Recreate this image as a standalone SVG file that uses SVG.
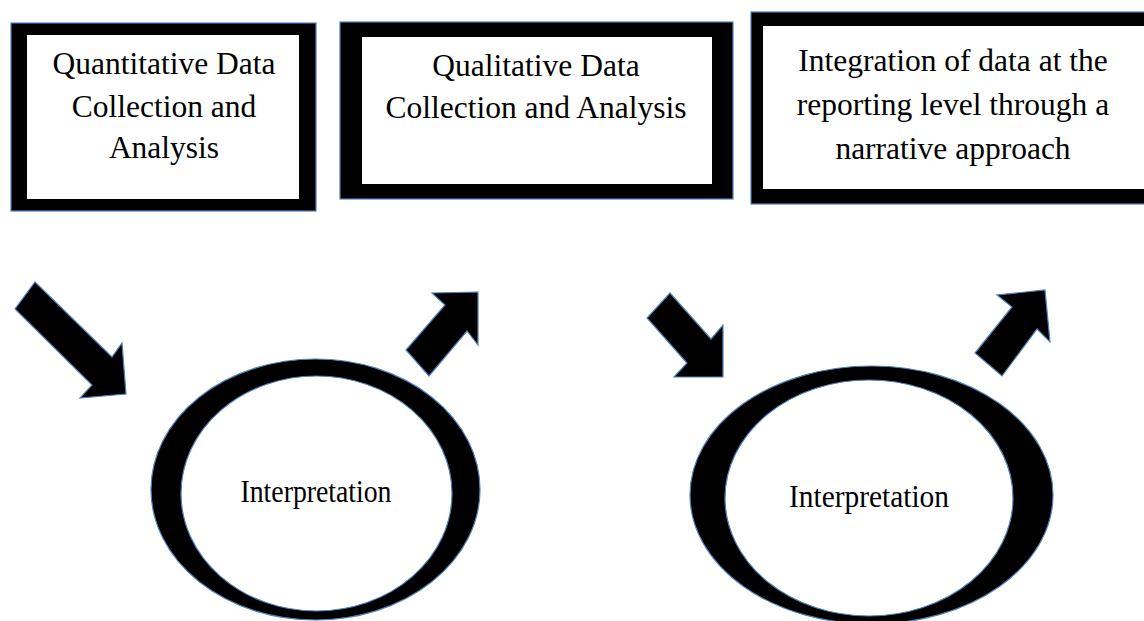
<svg xmlns="http://www.w3.org/2000/svg" width="1144" height="621" viewBox="0 0 1144 621">
<style>
.frame{fill:#000;stroke:#4f81bd;stroke-width:1.2}
.inner{fill:#fff}
.ring{fill:#000;stroke:#4f81bd;stroke-width:1.2}
.hole{fill:#fff;stroke:#4f81bd;stroke-width:1.2}
.arrow{fill:#000;stroke:#4f81bd;stroke-width:1.2;stroke-linejoin:miter}
text{font-family:"Liberation Serif","Times New Roman",serif;font-size:31.5px;fill:#000;text-anchor:middle}
</style>
<rect width="1144" height="621" fill="#fff"/>
<g id="box-quantitative">
<rect class="frame" x="11" y="23" width="305" height="188"/>
<rect class="inner" x="27" y="35" width="272" height="164"/>
<text x="164" y="74">Quantitative Data</text>
<text x="164" y="117">Collection and</text>
<text x="164" y="158">Analysis</text>
</g>
<g id="box-qualitative">
<rect class="frame" x="340" y="22" width="393" height="177"/>
<rect class="inner" x="362" y="37" width="350" height="147"/>
<text x="536" y="76">Qualitative Data</text>
<text x="536" y="118">Collection and Analysis</text>
</g>
<g id="box-integration">
<rect class="frame" x="751" y="12" width="420" height="192"/>
<rect class="inner" x="763" y="26" width="400" height="163"/>
<text x="953" y="71">Integration of data at the</text>
<text x="953" y="115">reporting level through a</text>
<text x="953" y="159">narrative approach</text>
</g>
<g id="interpretation-1">
<ellipse class="ring" cx="315.5" cy="489.5" rx="164.5" ry="130.5"/>
<ellipse class="hole" cx="316.5" cy="493.5" rx="135.5" ry="117.5"/>
<text x="316" y="502" font-size="31" textLength="151" lengthAdjust="spacingAndGlyphs">Interpretation</text>
</g>
<g id="interpretation-2">
<ellipse class="ring" cx="871.5" cy="495" rx="181.5" ry="129"/>
<ellipse class="hole" cx="869" cy="498" rx="144" ry="118"/>
<text x="869" y="507" font-size="31" textLength="160" lengthAdjust="spacingAndGlyphs">Interpretation</text>
</g>
<g id="connectors">
<polygon class="arrow" points="35,282 112,357 122,343 126,394 80,398 92,385 15,309"/>
<polygon class="arrow" points="406,350 445,305 432,293 478,292 478,345 467,331 429,376"/>
<polygon class="arrow" points="670,293 711,339 723,325 723,377 674,377 687,363 647,318"/>
<polygon class="arrow" points="975,353 1012,307 997,295 1045,290 1050,342 1037,329 1002,376"/>
</g>
</svg>
